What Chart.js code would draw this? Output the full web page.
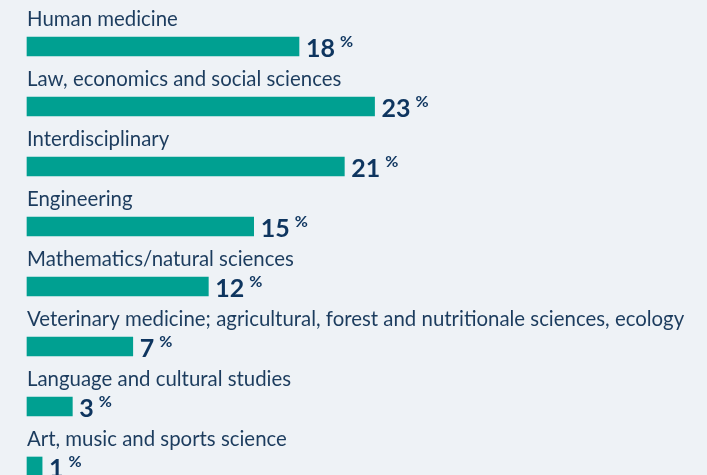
<!DOCTYPE html>
<html lang="en">
  <head>
    <meta charset="UTF-8" />
    <title>Fields of study</title>
    <script src="https://cdn.jsdelivr.net/npm/chart.js"></script>
    <style>
      html, body {
        margin: 0;
        padding: 0;
        background-color: #eef2f6;
      }
      .chart-container {
        position: relative;
        width: 707px;
        height: 475px;
        overflow: hidden;
      }
    </style>
  </head>
  <body>
    <div class="chart-container"><canvas id="fieldsChart" width="707" height="475"></canvas></div>

    <script>
      const categories = [
        "Human medicine",
        "Law, economics and social sciences",
        "Interdisciplinary",
        "Engineering",
        "Mathematics/natural sciences",
        "Veterinary medicine; agricultural, forest and nutritionale sciences, ecology",
        "Language and cultural studies",
        "Art, music and sports science",
      ];
      const shares = [18, 23, 21, 15, 12, 7, 3, 1];

      const labelFont = "Lato, 'Open Sans', sans-serif";

      // category name above each bar, value + small % after it
      const barLabels = {
        id: "barLabels",
        afterDatasetsDraw(chart) {
          const ctx = chart.ctx;
          const bars = chart.getDatasetMeta(0).data;
          ctx.save();
          ctx.textAlign = "left";
          ctx.textBaseline = "alphabetic";
          bars.forEach((bar, i) => {
            ctx.fillStyle = "#1c3c5e";
            ctx.font = "20.4px " + labelFont;
            ctx.fillText(categories[i], bar.base, bar.y - 20.5);

            ctx.fillStyle = "#0e355f";
            ctx.font = "bold 25px " + labelFont;
            const num = String(shares[i]);
            const nx = bar.x + 7;
            ctx.fillText(num, nx, bar.y + 10);
            const w = ctx.measureText(num).width;
            ctx.font = "bold 16px " + labelFont;
            ctx.fillText("%", nx + w + 5, bar.y + 0.5);
          });
          ctx.restore();
        },
      };

      new Chart(document.getElementById("fieldsChart"), {
        type: "bar",
        data: {
          labels: categories,
          datasets: [
            {
              data: shares,
              backgroundColor: "#00a091",
              borderWidth: 0,
              barThickness: 19,
              clip: false,
            },
          ],
        },
        options: {
          indexAxis: "y",
          responsive: false,
          animation: false,
          devicePixelRatio: 1,
          layout: {
            padding: { left: 27, right: 0, top: 46.5, bottom: 8.5 },
          },
          scales: {
            x: { display: false, min: 0, max: 45 },
            y: { display: false, offset: false },
          },
          plugins: {
            legend: { display: false },
            tooltip: { enabled: false },
          },
        },
        plugins: [barLabels],
      });
    </script>
  </body>
</html>
